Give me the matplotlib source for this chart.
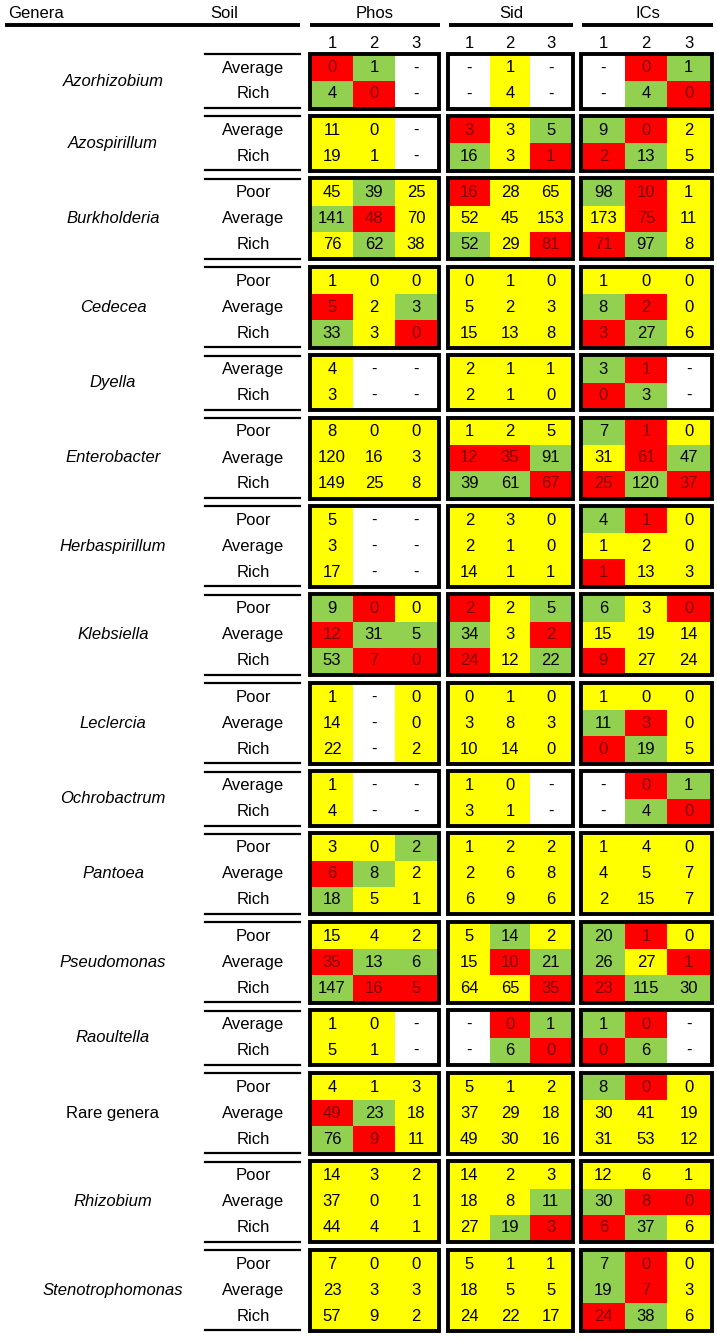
import matplotlib.pyplot as plt
from matplotlib.patches import Rectangle

plt.rcParams['font.family'] = ['Liberation Sans', 'DejaVu Sans']

# Genera and soil classes
genera = ['Azorhizobium', 'Azospirillum', 'Burkholderia', 'Cedecea', 'Dyella',
          'Enterobacter', 'Herbaspirillum', 'Klebsiella', 'Leclercia',
          'Ochrobactrum', 'Pantoea', 'Pseudomonas', 'Raoultella',
          'Rare genera', 'Rhizobium', 'Stenotrophomonas']
soils = [['Average', 'Rich'], ['Average', 'Rich'], ['Poor', 'Average', 'Rich'],
         ['Poor', 'Average', 'Rich'], ['Average', 'Rich'],
         ['Poor', 'Average', 'Rich'], ['Poor', 'Average', 'Rich'],
         ['Poor', 'Average', 'Rich'], ['Poor', 'Average', 'Rich'],
         ['Average', 'Rich'], ['Poor', 'Average', 'Rich'],
         ['Poor', 'Average', 'Rich'], ['Average', 'Rich'],
         ['Poor', 'Average', 'Rich'], ['Poor', 'Average', 'Rich'],
         ['Poor', 'Average', 'Rich']]
tests = ['Phos', 'Sid', 'ICs']
classes = ['1', '2', '3']

# values per genus, one string per soil row ("-" = not tested)
phos_vals = [['0 1 -', '4 0 -'], ['11 0 -', '19 1 -'],
             ['45 39 25', '141 48 70', '76 62 38'], ['1 0 0', '5 2 3', '33 3 0'],
             ['4 - -', '3 - -'], ['8 0 0', '120 16 3', '149 25 8'],
             ['5 - -', '3 - -', '17 - -'], ['9 0 0', '12 31 5', '53 7 0'],
             ['1 - 0', '14 - 0', '22 - 2'], ['1 - -', '4 - -'],
             ['3 0 2', '6 8 2', '18 5 1'], ['15 4 2', '35 13 6', '147 16 5'],
             ['1 0 -', '5 1 -'], ['4 1 3', '49 23 18', '76 9 11'],
             ['14 3 2', '37 0 1', '44 4 1'], ['7 0 0', '23 3 3', '57 9 2']]
sid_vals = [['- 1 -', '- 4 -'], ['3 3 5', '16 3 1'],
            ['16 28 65', '52 45 153', '52 29 81'], ['0 1 0', '5 2 3', '15 13 8'],
            ['2 1 1', '2 1 0'], ['1 2 5', '12 35 91', '39 61 67'],
            ['2 3 0', '2 1 0', '14 1 1'], ['2 2 5', '34 3 2', '24 12 22'],
            ['0 1 0', '3 8 3', '10 14 0'], ['1 0 -', '3 1 -'],
            ['1 2 2', '2 6 8', '6 9 6'], ['5 14 2', '15 10 21', '64 65 35'],
            ['- 0 1', '- 6 0'], ['5 1 2', '37 29 18', '49 30 16'],
            ['14 2 3', '18 8 11', '27 19 3'], ['5 1 1', '18 5 5', '24 22 17']]
ics_vals = [['- 0 1', '- 4 0'], ['9 0 2', '2 13 5'],
            ['98 10 1', '173 75 11', '71 97 8'], ['1 0 0', '8 2 0', '3 27 6'],
            ['3 1 -', '0 3 -'], ['7 1 0', '31 61 47', '25 120 37'],
            ['4 1 0', '1 2 0', '1 13 3'], ['6 3 0', '15 19 14', '9 27 24'],
            ['1 0 0', '11 3 0', '0 19 5'], ['- 0 1', '- 4 0'],
            ['1 4 0', '4 5 7', '2 15 7'], ['20 1 0', '26 27 1', '23 115 30'],
            ['1 0 -', '0 6 -'], ['8 0 0', '30 41 19', '31 53 12'],
            ['12 6 1', '30 8 0', '6 37 6'], ['7 0 0', '19 7 3', '24 38 6']]

# cell shading: R = red, G = green, Y = yellow, W = white
phos_cols = [['RGW', 'GRW'], ['YYW', 'YYW'], ['YGY', 'GRY', 'YGY'],
             ['YYY', 'RYG', 'GYR'], ['YWW', 'YWW'], ['YYY', 'YYY', 'YYY'],
             ['YWW', 'YWW', 'YWW'], ['GRY', 'RGG', 'GRR'], ['YWY', 'YWY', 'YWY'],
             ['YWW', 'YWW'], ['YYG', 'RGY', 'GYY'], ['YYY', 'RGG', 'GRR'],
             ['YYW', 'YYW'], ['YYY', 'RGY', 'GRY'], ['YYY', 'YYY', 'YYY'],
             ['YYY', 'YYY', 'YYY']]
sid_cols = [['WYW', 'WYW'], ['RYG', 'GYR'], ['RYY', 'YYY', 'GYR'],
            ['YYY', 'YYY', 'YYY'], ['YYY', 'YYY'], ['YYY', 'RRG', 'GGR'],
            ['YYY', 'YYY', 'YYY'], ['RYG', 'GYR', 'RYG'], ['YYY', 'YYY', 'YYY'],
            ['YYW', 'YYW'], ['YYY', 'YYY', 'YYY'], ['YGY', 'YRG', 'YYR'],
            ['WRG', 'WGR'], ['YYY', 'YYY', 'YYY'], ['YYY', 'YYG', 'YGR'],
            ['YYY', 'YYY', 'YYY']]
ics_cols = [['WRG', 'WGR'], ['GRY', 'RGY'], ['GRY', 'YRY', 'RGY'],
            ['YYY', 'GRY', 'RGY'], ['GRW', 'RGW'], ['GRY', 'YRG', 'RGR'],
            ['GRY', 'YYY', 'RYY'], ['GYR', 'YYY', 'RYY'], ['YYY', 'GRY', 'RGY'],
            ['WRG', 'WGR'], ['YYY', 'YYY', 'YYY'], ['GRY', 'GYR', 'RGG'],
            ['GRW', 'RGW'], ['GRY', 'YYY', 'YYY'], ['YYY', 'GRR', 'RGY'],
            ['GRY', 'GRY', 'RGY']]

palette = {'R': '#ff0000', 'G': '#92d050', 'Y': '#ffff00', 'W': '#ffffff'}
blocks = [(phos_vals, phos_cols, 311, 437), (sid_vals, sid_cols, 449, 571),
          (ics_vals, ics_cols, 582, 710)]

fig = plt.figure(figsize=(7.17, 13.37), dpi=100)
ax = fig.add_axes([0, 0, 1, 1])
ax.set_xlim(0, 717)
ax.set_ylim(1337, 0)
ax.axis('off')

fs = 12
row_h = 26
gap = 10.4

# header
ax.text(8, 13, 'Genera', fontsize=fs, ha='left', va='center')
ax.text(210, 13, 'Soil', fontsize=fs, ha='left', va='center')
for (x0, x1), name in zip([(310, 440), (449, 573), (582, 713)], tests):
    ax.text((x0 + x1) / 2, 13, name, fontsize=fs, ha='center', va='center')
    ax.plot([x0, x1], [25, 25], color='black', lw=2.8, solid_capstyle='butt')
ax.plot([5, 300], [25, 25], color='black', lw=2.8, solid_capstyle='butt')
for _, _, xl, xr in blocks:
    w = (xr - xl) / 3
    for j, c in enumerate(classes):
        ax.text(xl + (j + 0.5) * w, 43, c, fontsize=fs, ha='center', va='center')

# body
y = 68
for g, name in enumerate(genera):
    n = len(soils[g])
    top = y - row_h / 2
    bottom = top + n * row_h
    style = 'normal' if name == 'Rare genera' else 'italic'
    ax.text(113, (top + bottom) / 2, name, fontsize=fs, style=style,
            ha='center', va='center')
    ax.plot([205, 300], [top - 1, top - 1], color='black', lw=1.6)
    ax.plot([205, 300], [bottom + 1, bottom + 1], color='black', lw=1.6)
    for i, s in enumerate(soils[g]):
        ax.text(253, y + i * row_h, s, fontsize=fs, ha='center', va='center')
    for vals, cols, xl, xr in blocks:
        w = (xr - xl) / 3
        for i in range(n):
            for j, (v, c) in enumerate(zip(vals[g][i].split(), cols[g][i])):
                ax.add_patch(Rectangle((xl + j * w, top + i * row_h), w, row_h,
                                       facecolor=palette[c], edgecolor='none'))
                ax.text(xl + (j + 0.5) * w, y + i * row_h, v, fontsize=fs,
                        ha='center', va='center',
                        color='#7a0000' if c == 'R' else 'black')
        ax.add_patch(Rectangle((xl - 1.5, top - 1.5), xr - xl + 3, n * row_h + 3,
                               fill=False, edgecolor='black', lw=2.8))
    y += n * row_h + gap

fig.savefig('out.png', dpi=100)
